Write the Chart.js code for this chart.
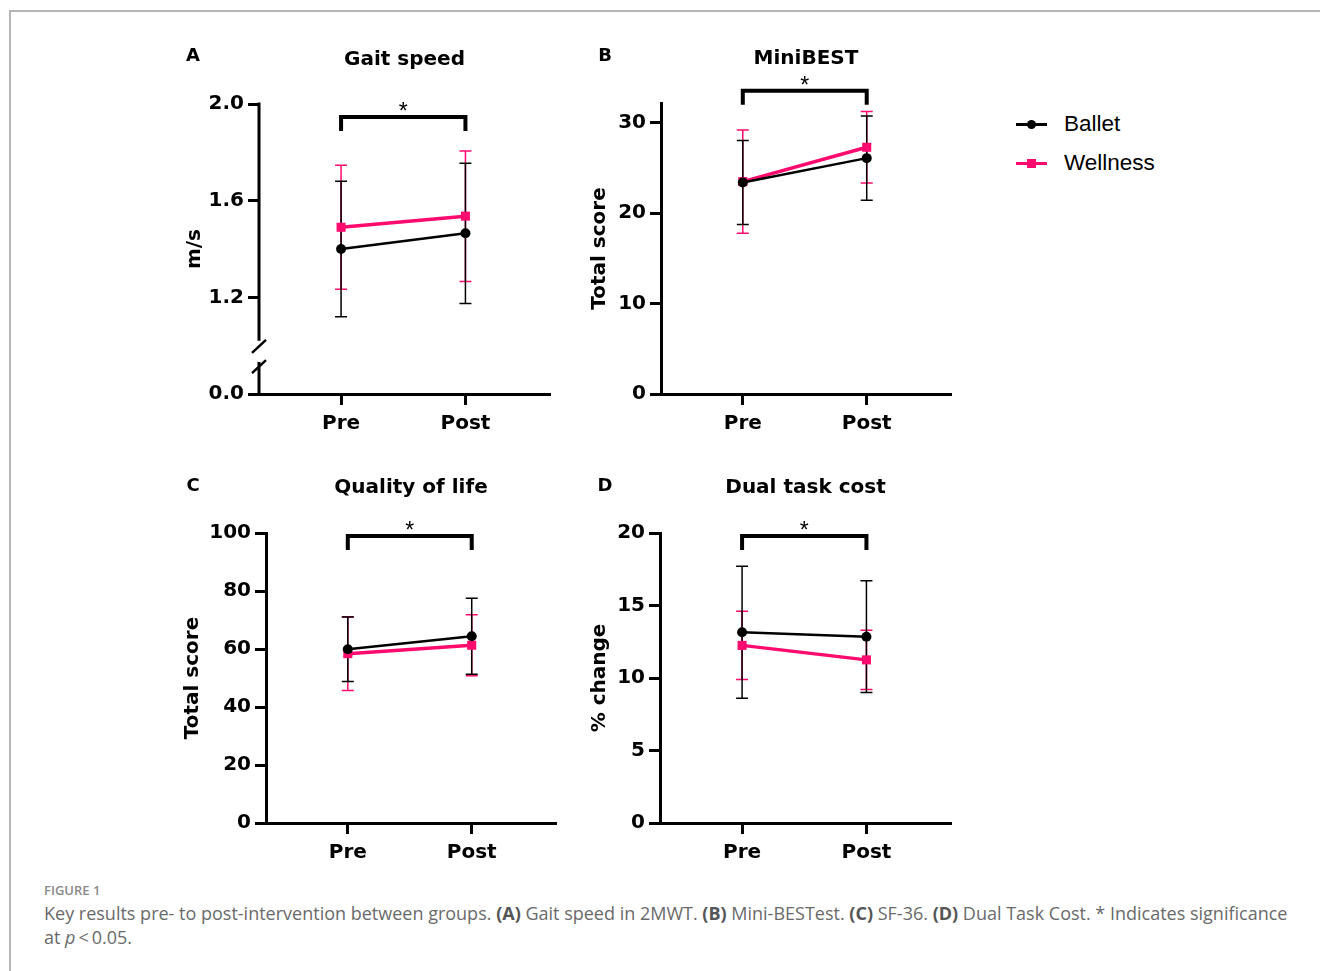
<!DOCTYPE html>
<html lang="en">
<head>
<meta charset="UTF-8">
<title>Figure 1 - Key results pre- to post-intervention</title>
<script src="https://cdn.jsdelivr.net/npm/chart.js"></script>
<style>
    body {
        margin: 0;
        background: #fff;
        width: 1320px;
        height: 971px;
        position: relative;
        overflow: hidden;
        font-family: "Liberation Sans", Arial, sans-serif;
    }
    .frame {
        position: absolute;
        left: 9px;
        top: 10px;
        width: 1330px;
        height: 990px;
        border-top: 2px solid #b5b5b5;
        border-left: 2px solid #b5b5b5;
    }
    canvas.panel {
        position: absolute;
    }
    .key-line {
        position: absolute;
        height: 3px;
        width: 31px;
        left: 1016px;
    }
    .key-mark {
        position: absolute;
    }
    .key-text {
        position: absolute;
        left: 1064px;
        font-size: 22.5px;
        line-height: 26px;
        color: #000;
    }
    .fig-label {
        position: absolute;
        left: 44px;
        top: 881px;
        font-family: "Open Sans", sans-serif;
        font-weight: 600;
        font-size: 13px;
        color: #8a8a8a;
    }
    .caption {
        position: absolute;
        left: 44px;
        top: 901px;
        width: 1270px;
        font-family: "Open Sans", sans-serif;
        font-size: 18px;
        line-height: 24px;
        color: #6a6a6a;
    }
    .caption b { color: #555; }
</style>
</head>
<body>
    <div class="frame"></div>

    <canvas id="gait" class="panel" width="420" height="420" style="left:150px; top:30px"></canvas>
    <canvas id="mini" class="panel" width="420" height="420" style="left:551px; top:30px"></canvas>
    <canvas id="qol" class="panel" width="420" height="420" style="left:150px; top:460px"></canvas>
    <canvas id="dtc" class="panel" width="420" height="420" style="left:551px; top:460px"></canvas>

    <!-- legend -->
    <div class="key-line" style="top:122.5px; background:#000"></div>
    <div class="key-mark" style="left:1026.5px; top:119.5px; width:9px; height:9px; border-radius:50%; background:#000"></div>
    <div class="key-text" style="top:111px">Ballet</div>
    <div class="key-line" style="top:161.5px; background:#ff0a6e"></div>
    <div class="key-mark" style="left:1027px; top:158.5px; width:9px; height:9px; background:#ff0a6e"></div>
    <div class="key-text" style="top:150px">Wellness</div>

    <div class="fig-label">FIGURE 1</div>
    <div class="caption">Key results pre- to post-intervention between groups. <b>(A)</b> Gait speed in 2MWT. <b>(B)</b> Mini-BESTest. <b>(C)</b> SF-36. <b>(D)</b> Dual Task Cost. * Indicates significance<br>at <i>p</i>&thinsp;&lt;&thinsp;0.05.</div>

<script>
    // ---- data ----
    const groups = ['Pre', 'Post'];
    const seriesNames = ['Ballet', 'Wellness'];

    // A: gait speed (m/s), axis is broken between 0.0 and 1.2
    const gaitBallet = [1.40, 1.465];
    const gaitBalletSd = [0.28, 0.29];
    const gaitWellness = [1.49, 1.536];
    const gaitWellnessSd = [0.257, 0.27];
    const gaitTicks = [0.8, 1.2, 1.6, 2.0];
    const gaitTickLabels = ['0.0', '1.2', '1.6', '2.0'];
    const gaitSig = 1.946;

    // B: MiniBEST total score
    const miniBallet = [23.4, 26.1];
    const miniBalletSd = [4.65, 4.65];
    const miniWellness = [23.5, 27.3];
    const miniWellnessSd = [5.7, 3.95];
    const miniTicks = [0, 10, 20, 30];
    const miniSig = 33.55;

    // C: quality of life total score
    const qolBallet = [59.9, 64.4];
    const qolBalletSd = [11.1, 13.1];
    const qolWellness = [58.4, 61.3];
    const qolWellnessSd = [12.7, 10.5];
    const qolTicks = [0, 20, 40, 60, 80, 100];
    const qolSig = 99;

    // D: dual task cost (% change)
    const dtcBallet = [13.15, 12.85];
    const dtcBalletSd = [4.55, 3.85];
    const dtcWellness = [12.25, 11.25];
    const dtcWellnessSd = [2.35, 2.05];
    const dtcTicks = [0, 5, 10, 15, 20];
    const dtcSig = 19.8;

    const BLACK = '#000000';
    const PINK = '#ff0a6e';
    const BOLD = '"DejaVu Sans", sans-serif';

    const panels = [
        { id: 'gait', letter: 'A', title: 'Gait speed', yTitle: 'm/s',
          ballet: gaitBallet, balletSd: gaitBalletSd, wellness: gaitWellness, wellnessSd: gaitWellnessSd,
          ticks: gaitTicks, tickLabels: gaitTickLabels, min: 0.8, max: 2.0, sig: gaitSig, broken: [0.932, 1.02],
          yWidth: 109, padRight: 20, padTop: 74, xHeight: 56, titlePad: 33, letterX: 43, titleY: 30 },
        { id: 'mini', letter: 'B', title: 'MiniBEST', yTitle: 'Total score',
          ballet: miniBallet, balletSd: miniBalletSd, wellness: miniWellness, wellnessSd: miniWellnessSd,
          ticks: miniTicks, min: 0, max: 32.2, sig: miniSig,
          yWidth: 110, padRight: 20, padTop: 73, xHeight: 56, titlePad: 37, letterX: 54, titleY: 29 },
        { id: 'qol', letter: 'C', title: 'Quality of life', yTitle: 'Total score',
          ballet: qolBallet, balletSd: qolBalletSd, wellness: qolWellness, wellnessSd: qolWellnessSd,
          ticks: qolTicks, min: 0, max: 100, sig: qolSig,
          yWidth: 116, padRight: 14, padTop: 73, xHeight: 57, titlePad: 31, letterX: 43, titleY: 28 },
        { id: 'dtc', letter: 'D', title: 'Dual task cost', yTitle: '% change',
          ballet: dtcBallet, balletSd: dtcBalletSd, wellness: dtcWellness, wellnessSd: dtcWellnessSd,
          ticks: dtcTicks, min: 0, max: 20, sig: dtcSig,
          yWidth: 109, padRight: 20, padTop: 73, xHeight: 57, titlePad: 37, letterX: 54, titleY: 28 }
    ];

    // error bars, titles, significance bracket, axis break
    function decorPlugin(p) {
        return {
            id: 'decor',
            beforeDatasetsDraw(chart) {
                const ctx = chart.ctx;
                const xs = chart.scales.x, ys = chart.scales.y;
                ctx.save();
                // wellness first so ballet bars sit on top
                [1, 0].forEach(di => {
                    const ds = chart.data.datasets[di];
                    ctx.strokeStyle = ds.borderColor;
                    ctx.lineWidth = 1.5;
                    ds.data.forEach((pt, i) => {
                        const sd = ds.sd[i];
                        const x = xs.getPixelForValue(pt.x);
                        const yTop = ys.getPixelForValue(pt.y + sd);
                        const yBot = ys.getPixelForValue(pt.y - sd);
                        ctx.beginPath();
                        ctx.moveTo(x, yTop); ctx.lineTo(x, yBot);
                        ctx.moveTo(x - 6, yTop); ctx.lineTo(x + 6, yTop);
                        ctx.moveTo(x - 6, yBot); ctx.lineTo(x + 6, yBot);
                        ctx.stroke();
                    });
                });
                ctx.restore();
            },
            afterDraw(chart) {
                const ctx = chart.ctx;
                const area = chart.chartArea;
                const xs = chart.scales.x, ys = chart.scales.y;
                ctx.save();
                ctx.fillStyle = BLACK;
                ctx.strokeStyle = BLACK;

                // panel letter + title
                ctx.textBaseline = 'middle';
                ctx.textAlign = 'center';
                ctx.font = 'bold 18px ' + BOLD;
                ctx.fillText(p.letter, p.letterX, 26);
                ctx.font = 'bold 20px ' + BOLD;
                ctx.fillText(p.title, (area.left + area.right) / 2, p.titleY);

                // significance bracket
                const x0 = xs.getPixelForValue(0), x1 = xs.getPixelForValue(1);
                const yb = ys.getPixelForValue(p.sig);
                ctx.lineWidth = 4;
                ctx.lineJoin = 'miter';
                ctx.beginPath();
                ctx.moveTo(x0, yb + 14);
                ctx.lineTo(x0, yb);
                ctx.lineTo(x1, yb);
                ctx.lineTo(x1, yb + 14);
                ctx.stroke();
                ctx.font = '23px "Liberation Sans", Arial, sans-serif';
                ctx.textBaseline = 'alphabetic';
                ctx.fillText('*', (x0 + x1) / 2, yb + 2);

                // broken y axis (gait speed only)
                if (p.broken) {
                    const xa = area.left;
                    const yLow = ys.getPixelForValue(p.broken[0]);
                    const yHigh = ys.getPixelForValue(p.broken[1]);
                    ctx.lineWidth = 3;
                    ctx.lineCap = 'butt';
                    ctx.beginPath();
                    ctx.moveTo(xa, area.top - 1.5); ctx.lineTo(xa, yHigh);
                    ctx.moveTo(xa, yLow); ctx.lineTo(xa, area.bottom + 1.5);
                    ctx.stroke();
                    ctx.lineWidth = 2.5;
                    ctx.beginPath();
                    ctx.moveTo(xa - 7, yHigh + 12); ctx.lineTo(xa + 7, yHigh - 1);
                    ctx.moveTo(xa - 7, yLow + 11); ctx.lineTo(xa + 7, yLow - 2);
                    ctx.stroke();
                }
                ctx.restore();
            }
        };
    }

    function makePanel(p) {
        const tickFont = { family: BOLD, size: 20, weight: 'bold' };
        new Chart(document.getElementById(p.id), {
            type: 'line',
            data: {
                datasets: [
                    {
                        label: seriesNames[0],
                        data: groups.map((g, i) => ({ x: i, y: p.ballet[i] })),
                        sd: p.balletSd,
                        borderColor: BLACK,
                        backgroundColor: BLACK,
                        borderWidth: 2.5,
                        pointStyle: 'circle',
                        pointRadius: 5,
                        pointBorderWidth: 0,
                        tension: 0
                    },
                    {
                        label: seriesNames[1],
                        data: groups.map((g, i) => ({ x: i, y: p.wellness[i] })),
                        sd: p.wellnessSd,
                        borderColor: PINK,
                        backgroundColor: PINK,
                        borderWidth: 3.5,
                        pointStyle: 'rect',
                        pointRadius: 6.4,
                        pointBorderWidth: 0,
                        tension: 0
                    }
                ]
            },
            options: {
                responsive: false,
                animation: false,
                events: [],
                clip: false,
                layout: { padding: { left: 0, right: p.padRight, top: p.padTop, bottom: 0 } },
                plugins: {
                    legend: { display: false },
                    tooltip: { enabled: false }
                },
                scales: {
                    x: {
                        type: 'linear',
                        min: -0.66,
                        max: 1.68,
                        afterBuildTicks: s => { s.ticks = groups.map((g, i) => ({ value: i })); },
                        afterFit: s => { s.height = p.xHeight; },
                        ticks: {
                            callback: v => groups[v],
                            font: tickFont,
                            color: BLACK,
                            padding: 7,
                            maxRotation: 0
                        },
                        grid: { drawOnChartArea: false, tickLength: 11, tickWidth: 3, tickColor: BLACK, color: BLACK },
                        border: { display: true, width: 3, color: BLACK }
                    },
                    y: {
                        min: p.min,
                        max: p.max,
                        afterBuildTicks: s => { s.ticks = p.ticks.map(v => ({ value: v })); },
                        afterFit: s => { s.width = p.yWidth; },
                        ticks: {
                            callback: (v, i) => p.tickLabels ? p.tickLabels[i] : String(v),
                            font: tickFont,
                            color: BLACK,
                            padding: 4
                        },
                        grid: { drawOnChartArea: false, tickLength: 11, tickWidth: 3, tickColor: BLACK, color: BLACK },
                        border: { display: !p.broken, width: 3, color: BLACK },
                        title: {
                            display: true,
                            text: p.yTitle,
                            color: BLACK,
                            font: { family: BOLD, size: 20, weight: 'bold' },
                            padding: { top: p.titlePad, bottom: 0 }
                        }
                    }
                }
            },
            plugins: [decorPlugin(p)]
        });
    }

    panels.forEach(makePanel);
</script>
</body>
</html>
